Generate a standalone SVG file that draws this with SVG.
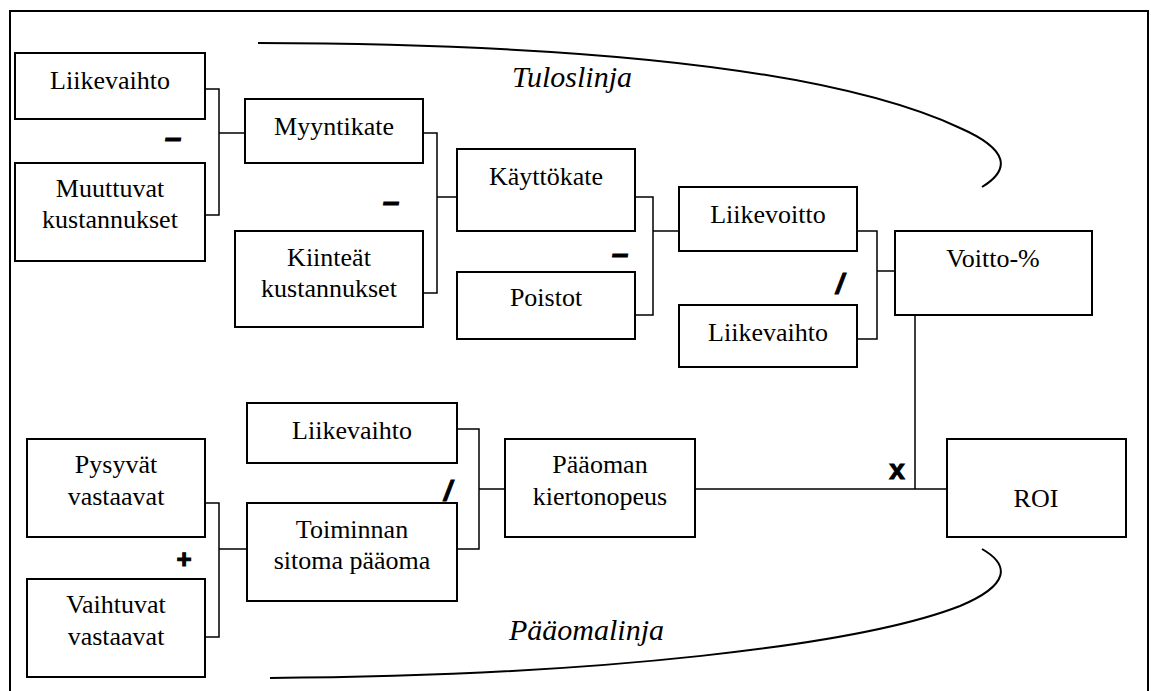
<svg xmlns="http://www.w3.org/2000/svg" width="1151" height="691" viewBox="0 0 1151 691">
  <style>
    .box { fill: #fff; stroke: #000; stroke-width: 2; }
    .nm { font-family: 'Liberation Serif', serif !important; font-size: 26px; fill: #000; text-anchor: middle; }
    .flow { font-family: 'Liberation Serif', serif !important; font-size: 30px; font-style: italic; fill: #000; }
    .sym { font-family: 'Liberation Sans', sans-serif !important; font-weight: bold; fill: #000; stroke: #000; stroke-width: 1; text-anchor: middle; }
    .wire { fill: none; stroke: #000; stroke-width: 1.5; }
    .arc { fill: none; stroke: #000; stroke-width: 2; }
  </style>

  <rect width="1151" height="691" fill="#fff"/>

  <!-- page frame (open at the bottom) -->
  <path d="M10,700 V11 H1148 V700" fill="none" stroke="#000" stroke-width="2"/>

  <!-- profit line and capital line arcs -->
  <g id="arcs" font-family="Liberation Serif">
    <path class="arc" d="M258,43 C600,44 840,72 960,128 C1010,150 1010,170 982,187"/>
    <path class="arc" d="M982,549 C1010,565 1010,585 960,606 C860,645 600,676 270,678"/>
    <text class="flow" x="512" y="87">Tuloslinja</text>
    <text class="flow" x="509" y="640">Pääomalinja</text>
  </g>

  <!-- bracket connectors -->
  <g id="connectors">
    <path class="wire" d="M205,89 H219 V215 H205 M219,133 H245"/>
    <path class="wire" d="M423,133 H437 V293 H423 M437,197 H457"/>
    <path class="wire" d="M635,197 H653 V315 H635 M653,231 H679"/>
    <path class="wire" d="M857,231 H877 V339 H857 M877,271 H895"/>
    <path class="wire" d="M205,503 H219 V637 H205 M219,549 H247"/>
    <path class="wire" d="M457,429 H479 V549 H457 M479,489 H505"/>
    <path class="wire" d="M695,489 H947 M915,315 V489"/>
  </g>

  <!-- operators -->
  <g id="operators" font-family="Liberation Sans">
    <text class="sym" x="173" y="148" font-size="30" font-style="italic">–</text>
    <text class="sym" x="391" y="212" font-size="30" font-style="italic">–</text>
    <text class="sym" x="620" y="264" font-size="30" font-style="italic">–</text>
    <text class="sym" x="840" y="293" font-size="28" font-style="italic">/</text>
    <text class="sym" x="448" y="500" font-size="28" font-style="italic">/</text>
    <text class="sym" x="184" y="568" font-size="26">+</text>
    <text class="sym" x="897" y="479" font-size="28">x</text>
  </g>

  <g id="nodes" font-family="Liberation Serif">
    <!-- profit side -->
    <g id="liikevaihto-1"><rect class="box" x="15" y="53" width="190" height="66"/><text class="nm" x="110" y="89">Liikevaihto</text></g>
    <g id="muuttuvat"><rect class="box" x="15" y="163" width="190" height="98"/><text class="nm" x="110" y="197">Muuttuvat</text><text class="nm" x="110" y="228">kustannukset</text></g>
    <g id="myyntikate"><rect class="box" x="245" y="99" width="178" height="64"/><text class="nm" x="334" y="135">Myyntikate</text></g>
    <g id="kiinteat"><rect class="box" x="235" y="231" width="188" height="96"/><text class="nm" x="329" y="266">Kiinteät</text><text class="nm" x="329" y="297">kustannukset</text></g>
    <g id="kayttokate"><rect class="box" x="457" y="149" width="178" height="82"/><text class="nm" x="546" y="185">Käyttökate</text></g>
    <g id="poistot"><rect class="box" x="457" y="272" width="178" height="67"/><text class="nm" x="546" y="306">Poistot</text></g>
    <g id="liikevoitto"><rect class="box" x="679" y="187" width="178" height="64"/><text class="nm" x="768" y="223">Liikevoitto</text></g>
    <g id="liikevaihto-2"><rect class="box" x="679" y="305" width="178" height="62"/><text class="nm" x="768" y="341">Liikevaihto</text></g>
    <g id="voitto"><rect class="box" x="895" y="231" width="197" height="84"/><text class="nm" x="993" y="267">Voitto-%</text></g>

    <!-- capital side -->
    <g id="pysyvat"><rect class="box" x="27" y="439" width="178" height="98"/><text class="nm" x="116" y="473">Pysyvät</text><text class="nm" x="116" y="505">vastaavat</text></g>
    <g id="vaihtuvat"><rect class="box" x="27" y="579" width="178" height="98"/><text class="nm" x="116" y="613">Vaihtuvat</text><text class="nm" x="116" y="645">vastaavat</text></g>
    <g id="liikevaihto-3"><rect class="box" x="247" y="403" width="210" height="60"/><text class="nm" x="352" y="439">Liikevaihto</text></g>
    <g id="toiminnan"><rect class="box" x="247" y="503" width="210" height="98"/><text class="nm" x="352" y="538">Toiminnan</text><text class="nm" x="352" y="569">sitoma pääoma</text></g>
    <g id="kiertonopeus"><rect class="box" x="505" y="439" width="190" height="98"/><text class="nm" x="600" y="473">Pääoman</text><text class="nm" x="600" y="505">kiertonopeus</text></g>
    <g id="roi"><rect class="box" x="947" y="439" width="179" height="98"/><text class="nm" x="1036" y="507">ROI</text></g>
  </g>
</svg>
